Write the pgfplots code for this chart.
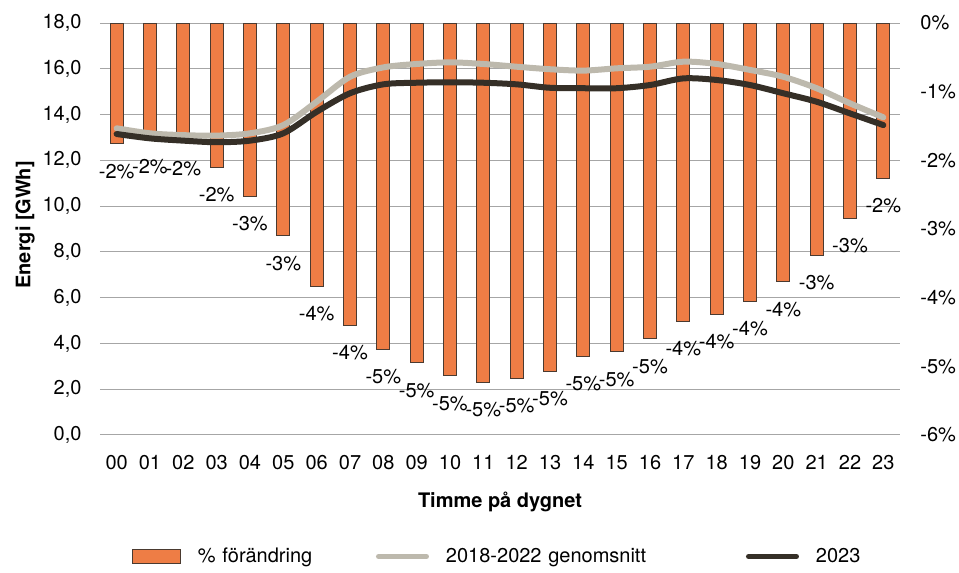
\documentclass[border=0pt]{standalone}
\usepackage{fontspec}
\setmainfont{TeX Gyre Heros}
\usepackage{pgfplots}
\pgfplotsset{compat=1.18}

\definecolor{barfill}{HTML}{EE7D45}
\definecolor{baredge}{HTML}{4A3A30}
\definecolor{avggray}{HTML}{BDB9AD}
\definecolor{darkline}{HTML}{352F27}
\definecolor{gridgray}{HTML}{A6A6A6}

\begin{document}
\begin{tikzpicture}
% percent change, right axis (drawn first so the lines sit on top)
\begin{axis}[
    at={(0,0)}, anchor=south west,
    width=400pt, height=206pt, scale only axis,
    xmin=-0.5, xmax=23.5, ymin=-6, ymax=0,
    axis line style={draw=none},
    major tick length=0pt,
    xtick={0,...,23},
    xticklabels={00,01,02,03,04,05,06,07,08,09,10,11,12,13,14,15,16,17,18,19,20,21,22,23},
    xticklabel style={anchor=base, yshift=-17pt},
    ytick={-6,-5,-4,-3,-2,-1,0},
    yticklabels={-6\%,-5\%,-4\%,-3\%,-2\%,-1\%,0\%},
    yticklabel pos=right,
    yticklabel style={anchor=west, xshift=6.7pt},
    extra y ticks={-6,-5.3333,-4.6667,-4,-3.3333,-2.6667,-2,-1.3333,-0.6667,0},
    extra y tick labels={},
    extra y tick style={grid=major, major grid style={draw=gridgray, line width=0.5pt}},
    ybar, bar width=6.5pt,
    point meta=explicit symbolic,
    nodes near coords,
    nodes near coords style={anchor=north, yshift=-6.4pt},
  ]
  \addplot[fill=barfill, draw=baredge, line width=0.5pt] coordinates {
    (0,-1.76) [-2\%] (1,-1.69) [-2\%] (2,-1.73) [-2\%] (3,-2.10) [-2\%]
    (4,-2.53) [-3\%] (5,-3.10) [-3\%] (6,-3.84) [-4\%] (7,-4.41) [-4\%]
    (8,-4.75) [-5\%] (9,-4.95) [-5\%] (10,-5.14) [-5\%] (11,-5.23) [-5\%]
    (12,-5.17) [-5\%] (13,-5.07) [-5\%] (14,-4.85) [-5\%] (15,-4.79) [-5\%]
    (16,-4.60) [-5\%] (17,-4.35) [-4\%] (18,-4.25) [-4\%] (19,-4.06) [-4\%]
    (20,-3.77) [-4\%] (21,-3.39) [-3\%] (22,-2.85) [-3\%] (23,-2.26) [-2\%]};
\end{axis}

% energy, left axis
\begin{axis}[
    at={(0,0)}, anchor=south west,
    width=400pt, height=206pt, scale only axis,
    xmin=-0.5, xmax=23.5, ymin=0, ymax=18,
    axis line style={draw=none},
    major tick length=0pt,
    xtick=\empty,
    ytick={0,2,...,18},
    yticklabel style={anchor=east, xshift=-5.7pt},
    /pgf/number format/fixed,
    /pgf/number format/fixed zerofill,
    /pgf/number format/precision=1,
    /pgf/number format/use comma,
    /pgf/number format/assume math mode=true,
    xlabel={Timme på dygnet},
    xlabel style={at={(axis description cs:0.5,-0.1748)}, anchor=base, font=\bfseries},
    ylabel={Energi [GWh]},
    ylabel style={at={(axis description cs:-0.09375,0.51)}, anchor=center, font=\bfseries},
    legend columns=3,
    legend cell align=left,
    legend style={at={(axis description cs:0.04,-0.295)}, anchor=west,
      draw=none, fill=none, inner sep=0pt, outer sep=0pt,
      column sep=0pt,
      /tikz/every odd column/.append style={column sep=8.5pt},
      nodes={inner xsep=0pt}},
    legend image code/.code={\draw[#1, line width=2.5pt, line cap=round] (0pt,0pt) -- (24pt,0pt);},
  ]
  \addlegendimage{legend image code/.code={\draw[fill=barfill, draw=baredge, line width=0.5pt] (0pt,-3.5pt) rectangle (24pt,3.5pt);}}
  \addlegendentry[text width=89pt]{\% förändring}
  \addplot[color=avggray, line width=3pt, smooth, tension=0.5, line cap=round, line join=round] coordinates {
    (0,13.40) (1,13.18) (2,13.10) (3,13.08) (4,13.18) (5,13.54) (6,14.56) (7,15.65)
    (8,16.06) (9,16.21) (10,16.28) (11,16.21) (12,16.09) (13,15.98) (14,15.92) (15,16.02)
    (16,16.09) (17,16.31) (18,16.21) (19,15.95) (20,15.65) (21,15.15) (22,14.49) (23,13.88)};
  \addlegendentry[text width=150pt]{2018-2022 genomsnitt}
  \addplot[color=darkline, line width=3pt, smooth, tension=0.5, line cap=round, line join=round] coordinates {
    (0,13.15) (1,12.96) (2,12.86) (3,12.79) (4,12.86) (5,13.18) (6,14.12) (7,14.93)
    (8,15.32) (9,15.39) (10,15.41) (11,15.39) (12,15.32) (13,15.17) (14,15.15) (15,15.15)
    (16,15.29) (17,15.58) (18,15.51) (19,15.29) (20,14.93) (21,14.56) (22,14.05) (23,13.54)};
  \addlegendentry{2023}
\end{axis}
\pgfresetboundingbox
\path[use as bounding box] (-50pt,-69pt) rectangle (429.5pt,217.5pt);
\end{tikzpicture}
\end{document}
